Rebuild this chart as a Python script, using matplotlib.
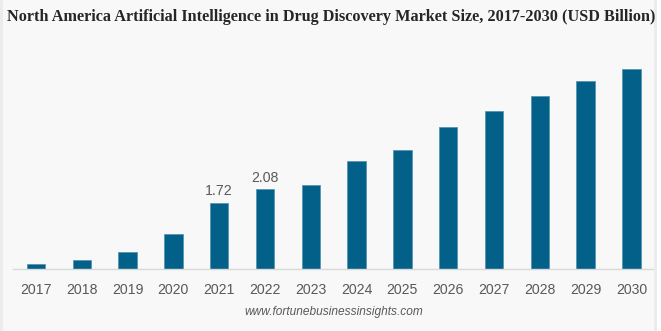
import numpy as np
import matplotlib.pyplot as plt
from matplotlib.patches import Rectangle

years = ["2017", "2018", "2019", "2020", "2021", "2022", "2023",
         "2024", "2025", "2026", "2027", "2028", "2029", "2030"]
values = [0.15, 0.25, 0.46, 0.91, 1.72, 2.08, 2.20,
          2.81, 3.11, 3.70, 4.10, 4.50, 4.90, 5.20]
labels = {4: "1.72", 5: "2.08"}

W, H = 661, 331
fig = plt.figure(figsize=(W / 100, H / 100), dpi=100)
fig.patch.set_facecolor("white")

# light panel with thin borders
for (x0, w, c) in [(1, 654, "#f8f8f8"), (0, 2.5, "#ececec"), (654, 3, "#ececec")]:
    fig.patches.append(Rectangle((x0 / W, 0), w / W, 1, transform=fig.transFigure,
                                 facecolor=c, edgecolor="none", zorder=-5))

# axes: baseline y=269, top of 5.2 bar at y=69 -> 38.5 px per unit
ax_left, ax_right = 13 / W, 653 / W
ax_bottom = 1 - 269.3 / H
ax_top = 1 - 40 / H
ax = fig.add_axes([ax_left, ax_bottom, ax_right - ax_left, ax_top - ax_bottom])
ax.set_facecolor("none")
ymax = (269.3 - 40) / 38.5
ax.set_ylim(0, ymax)
ax.set_xlim(-0.5, 13.47)

x = np.arange(len(years))
ax.bar(x, values, width=0.40, color="#036189", edgecolor="#4f8fae", linewidth=0.5)

for i, t in labels.items():
    ax.text(x[i], values[i] + 0.12, t, ha="center", va="bottom",
            fontsize=10.2, color="#595959", family="Liberation Sans")

for s in ["top", "right", "left"]:
    ax.spines[s].set_visible(False)
ax.spines["bottom"].set_color("#d9d9d9")
ax.spines["bottom"].set_linewidth(1)
ax.set_yticks([])
ax.set_xticks(x)
ax.set_xticklabels(years, fontsize=10.2, color="#595959", family="Liberation Sans")
ax.tick_params(axis="x", length=0, pad=10)

fig.text(331 / W, 1 - 17 / H,
         "North America Artificial Intelligence in Drug Discovery Market Size, 2017-2030 (USD Billion)",
         ha="center", va="center", fontsize=11.7, fontweight="bold",
         family="Liberation Serif", color="#262626")
fig.text(334 / W, 1 - 312 / H, "www.fortunebusinessinsights.com",
         ha="center", va="center", fontsize=8.6, style="italic",
         family="Liberation Sans", color="#595959")

fig.savefig("out.png", dpi=100, facecolor=fig.get_facecolor())
